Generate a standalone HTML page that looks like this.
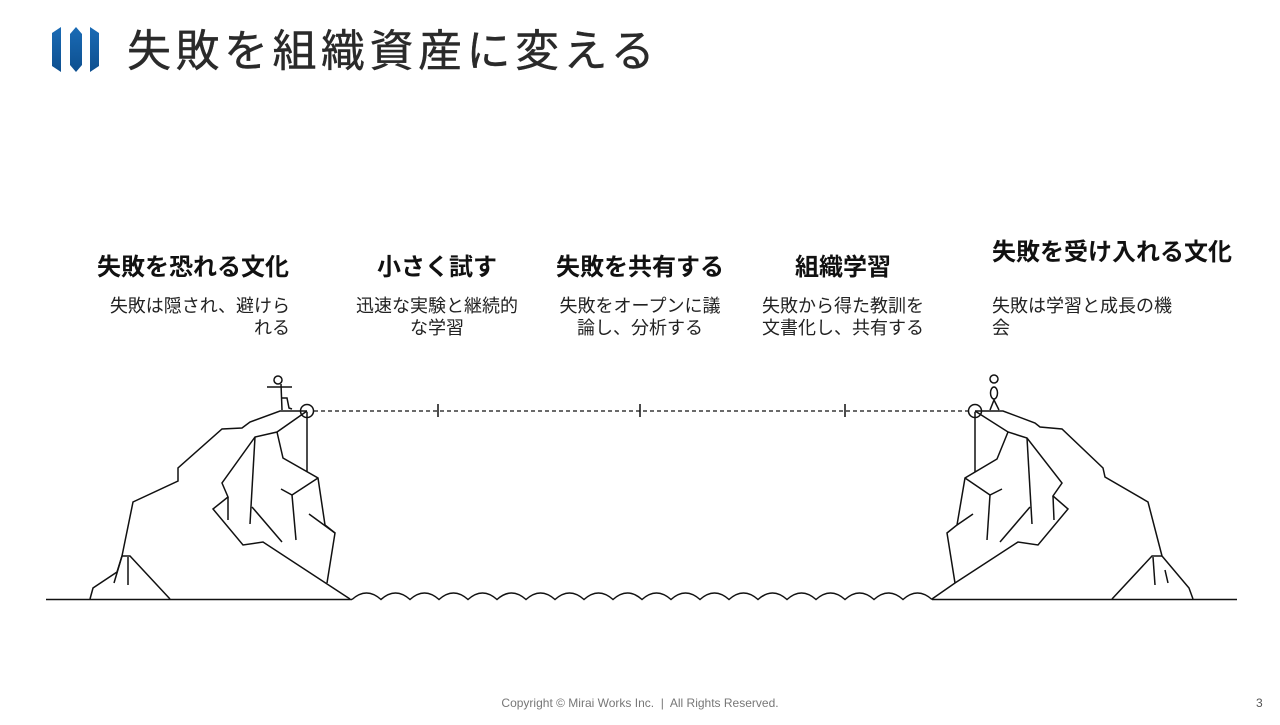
<!DOCTYPE html>
<html><head><meta charset="utf-8"><style>
html,body{margin:0;padding:0;background:#fff;}
body{width:1280px;height:720px;overflow:hidden;}
svg text{font-family:"Liberation Sans","Noto Sans CJK JP",sans-serif;}
</style></head><body>
<svg width="1280" height="720" viewBox="0 0 1280 720" xmlns="http://www.w3.org/2000/svg">
<defs><linearGradient id="g" x1="0" y1="0" x2="0" y2="1"><stop offset="0" stop-color="#1a6bb5"/><stop offset="1" stop-color="#0d4f8f"/></linearGradient></defs>
<polygon points="52,33 61,27 61,72 52,66" fill="url(#g)"/>
<polygon points="76,27 82,34 82,65 76,72 70,65 70,34" fill="url(#g)"/>
<polygon points="90,27 99,33 99,66 90,72" fill="url(#g)"/>
<text x="127" y="66" font-size="44" fill="#2a2a2a" letter-spacing="4.5" stroke="#2a2a2a" stroke-width="0.4">失敗を組織資産に変える</text>

<g font-weight="bold" font-size="24" fill="#111" text-anchor="middle">
<text x="193" y="275">失敗を恐れる文化</text>
<text x="437" y="275">小さく試す</text>
<text x="640" y="275">失敗を共有する</text>
<text x="843" y="275">組織学習</text>
<text x="1112" y="260">失敗を受け入れる文化</text>
</g>
<g font-size="18" fill="#222">
<text x="290" y="312" text-anchor="end">失敗は隠され、避けら</text>
<text x="290" y="334" text-anchor="end">れる</text>
<text x="437" y="312" text-anchor="middle">迅速な実験と継続的</text>
<text x="437" y="334" text-anchor="middle">な学習</text>
<text x="640" y="312" text-anchor="middle">失敗をオープンに議</text>
<text x="640" y="334" text-anchor="middle">論し、分析する</text>
<text x="843" y="312" text-anchor="middle">失敗から得た教訓を</text>
<text x="843" y="334" text-anchor="middle">文書化し、共有する</text>
<text x="992" y="312">失敗は学習と成長の機</text>
<text x="992" y="334">会</text>
</g>

<g fill="none" stroke="#111" stroke-width="1.5" stroke-linejoin="miter">
<line x1="46" y1="599.5" x2="352" y2="599.5"/>
<line x1="932" y1="599.5" x2="1237" y2="599.5"/>
<path d="M352,599.5 q14.5,-13 29,0 q14.5,-13 29,0 q14.5,-13 29,0 q14.5,-13 29,0 q14.5,-13 29,0 q14.5,-13 29,0 q14.5,-13 29,0 q14.5,-13 29,0 q14.5,-13 29,0 q14.5,-13 29,0 q14.5,-13 29,0 q14.5,-13 29,0 q14.5,-13 29,0 q14.5,-13 29,0 q14.5,-13 29,0 q14.5,-13 29,0 q14.5,-13 29,0 q14.5,-13 29,0 q14.5,-13 29,0 q14.5,-13 29,0"/>
<line x1="314" y1="411" x2="968" y2="411" stroke-dasharray="4,3" stroke-width="1.2"/>
<line x1="438" y1="404" x2="438" y2="417"/>
<line x1="640" y1="404" x2="640" y2="417"/>
<line x1="845" y1="404" x2="845" y2="417"/>

<polyline points="90,599 93,588 117,572 122,556 133,502 178,481 178,468 222,429 242,428 250,422 280,411 307,411"/>
<polyline points="122,556 130,556 170,599"/>
<line x1="122" y1="556" x2="114" y2="583"/>
<line x1="128" y1="557" x2="128" y2="585"/>
<polyline points="307,411 277,432 255,437 222,483 228,497 213,509 243,545 263,542 350,599"/>
<polyline points="277,432 283,458 318,478 325,525 335,533 327,583"/>
<line x1="307" y1="412" x2="307" y2="472"/>
<polyline points="318,478 292,495 281,489"/>
<line x1="292" y1="495" x2="296" y2="540"/>
<line x1="255" y1="437" x2="250" y2="524"/>
<line x1="252" y1="507" x2="282" y2="542"/>
<line x1="228" y1="497" x2="228" y2="520"/>
<line x1="309" y1="514" x2="335" y2="533"/>
<circle cx="307" cy="411" r="6.5"/>
<circle cx="278" cy="380" r="4"/>
<line x1="281" y1="384" x2="282" y2="410"/>
<line x1="267" y1="387" x2="292" y2="387"/>
<polyline points="282,398 287,398 289,408 292,409"/>

<polyline points="975,411 1003,411 1035,423 1040,427 1062,429 1103,468 1105,477 1148,502 1162,556 1189,588 1193,599"/>
<polyline points="1162,556 1152,556 1112,599"/>
<line x1="1153" y1="557" x2="1155" y2="585"/>
<line x1="1165" y1="570" x2="1168" y2="583"/>
<polyline points="975,411 1008,432 1027,438 1062,483 1053,496 1068,509 1038,545 1018,542 955,583 932,599"/>
<polyline points="955,583 947,533 957,525 965,478 997,459 1008,432"/>
<line x1="975" y1="412" x2="975" y2="472"/>
<polyline points="965,478 990,495 1002,489"/>
<line x1="990" y1="495" x2="987" y2="540"/>
<line x1="1027" y1="438" x2="1032" y2="524"/>
<line x1="1030" y1="507" x2="1000" y2="542"/>
<line x1="1053" y1="496" x2="1054" y2="520"/>
<line x1="957" y1="525" x2="973" y2="514"/>
<circle cx="975" cy="411" r="6.5"/>
<circle cx="994" cy="379" r="4"/>
<ellipse cx="994" cy="393" rx="3.5" ry="6"/>
<polyline points="990,410 994,400 999,410"/>
</g>

<text x="640" y="707" font-size="12" fill="#777" text-anchor="middle" xml:space="preserve">Copyright © Mirai Works Inc.  |  All Rights Reserved.</text>
<text x="1256" y="707" font-size="12" fill="#555">3</text>
</svg>
</body></html>
